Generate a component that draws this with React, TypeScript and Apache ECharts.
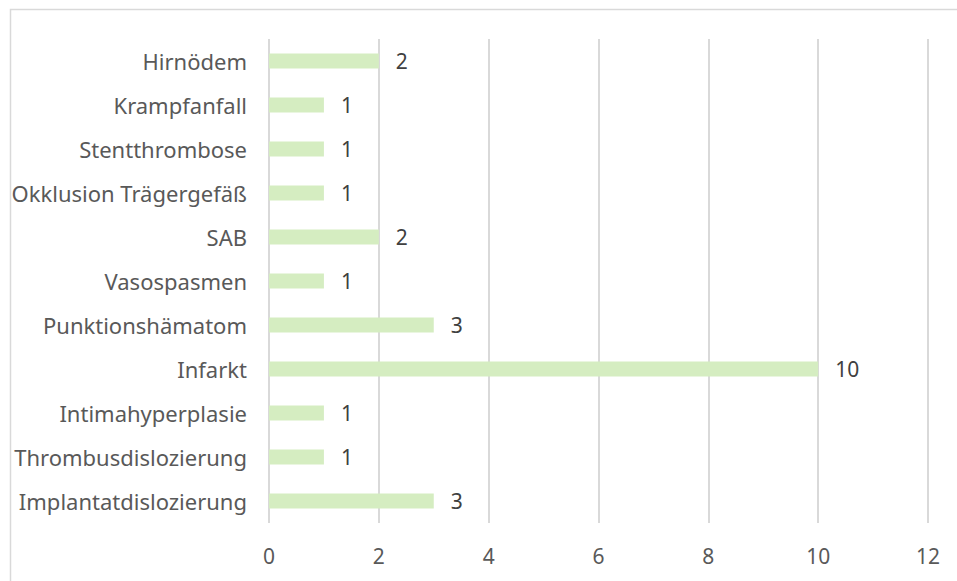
import React, { useEffect, useRef } from "react";
import * as echarts from "echarts";

const categories = [
  "Hirnödem",
  "Krampfanfall",
  "Stentthrombose",
  "Okklusion Trägergefäß",
  "SAB",
  "Vasospasmen",
  "Punktionshämatom",
  "Infarkt",
  "Intimahyperplasie",
  "Thrombusdislozierung",
  "Implantatdislozierung",
];
const values = [2, 1, 1, 1, 2, 1, 3, 10, 1, 1, 3];
const axisMin = 0;
const axisMax = 12;
const axisStep = 2;

const FONT = "'Noto Sans', sans-serif";

export default function App() {
  const ref = useRef<HTMLDivElement>(null);
  useEffect(() => {
    if (!ref.current) return;
    const chart = echarts.init(ref.current, null, { renderer: "svg" });
    chart.setOption({
      animation: false,
      backgroundColor: "#ffffff",
      graphic: [
        {
          type: "rect",
          shape: { x: 10.5, y: 9.5, width: 960, height: 590 },
          style: { fill: "none", stroke: "#d9d9d9", lineWidth: 1.5 },
          silent: true,
        },
      ],
      grid: { left: 269, right: 29, top: 39, bottom: 58, containLabel: false },
      xAxis: {
        type: "value",
        min: axisMin,
        max: axisMax,
        interval: axisStep,
        axisLine: { show: false },
        axisTick: { show: false },
        splitLine: { show: true, lineStyle: { color: "#d9d9d9", width: 2 } },
        axisLabel: { color: "#595959", fontSize: 21, fontFamily: FONT, margin: 22 },
      },
      yAxis: {
        type: "category",
        data: categories,
        inverse: true,
        axisLine: { show: false },
        axisTick: { show: false },
        splitLine: { show: false },
        axisLabel: { color: "#595959", fontSize: 22, fontFamily: FONT, margin: 22 },
      },
      series: [
        {
          type: "bar",
          data: values,
          barWidth: 15,
          itemStyle: { color: "#d5edc1" },
          label: {
            show: true,
            position: "right",
            distance: 17,
            color: "#404040",
            fontSize: 21,
            fontFamily: FONT,
          },
        },
      ],
    });
    return () => chart.dispose();
  }, []);
  return (
    <div
      ref={ref}
      style={{ position: "fixed", left: 0, top: 0, width: 957, height: 581, background: "#fff" }}
    />
  );
}
